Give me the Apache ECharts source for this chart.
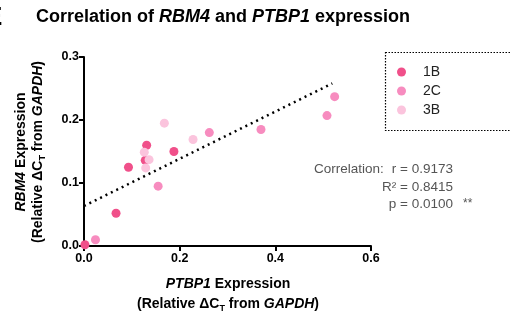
<!DOCTYPE html>
<html>
<head>
<meta charset="utf-8">
<script src="https://cdn.jsdelivr.net/npm/echarts@6/dist/echarts.min.js"></script>
<style>
  html, body { margin: 0; padding: 0; background: #fff; }
  #chart { width: 510px; height: 320px; }
</style>
</head>
<body>
<div id="chart"></div>
<script>
// 数据 (PTBP1, RBM4)
var data1B = [[0.002, 0.002], [0.067, 0.052], [0.093, 0.125], [0.131, 0.160], [0.128, 0.136], [0.188, 0.150]];
var data2C = [[0.024, 0.010], [0.155, 0.095], [0.262, 0.180], [0.370, 0.185], [0.508, 0.207], [0.524, 0.237]];
var data3B = [[0.126, 0.149], [0.136, 0.137], [0.129, 0.124], [0.168, 0.195], [0.228, 0.169]];
// 回归线
var fitX = [0, 0.519];
var fitY = [0.0635, 0.258];
var xTicks = [0, 0.2, 0.4, 0.6];
var yTicks = [0, 0.1, 0.2, 0.3];
var statLines = ['r = 0.9173', 'R\u00b2 = 0.8415', 'p = 0.0100'];

var colors = { '1B': '#f0508a', '2C': '#f78cbf', '3B': '#fbc4dd' };
var font = '"Liberation Sans", Arial, sans-serif';

var myChart = echarts.init(document.getElementById('chart'));

function scatter(name, d) {
    return {
        name: name,
        type: 'scatter',
        symbol: 'circle',
        symbolSize: 9,
        itemStyle: { color: colors[name], opacity: 1 },
        data: d,
        z: 3
    };
}

// 轴标题的富文本样式
var richLabel = {
    b: { fontSize: 14, fontWeight: 'bold', fontFamily: font, fill: '#000', height: 16 },
    bi: { fontSize: 14, fontWeight: 'bold', fontStyle: 'italic', fontFamily: font, fill: '#000', height: 16 },
    s: { fontSize: 9, fontWeight: 'bold', fontFamily: font, fill: '#000', padding: [8, 0, 0, 0] }
};
var statStyle = { fontSize: 13.5, fontFamily: font, fill: '#555' };

var option = {
    animation: false,
    grid: { left: 84, right: 139, top: 57, bottom: 74 },
    xAxis: {
        type: 'value',
        min: 0, max: 0.6, interval: 0.2,
        splitLine: { show: false },
        axisLine: { show: true, lineStyle: { color: '#000', width: 2 } },
        axisTick: { show: true, length: 5, lineStyle: { color: '#000', width: 2 } },
        axisLabel: {
            color: '#000', fontWeight: 'bold', fontSize: 12.5, fontFamily: font, margin: 6,
            formatter: function (v) { return v.toFixed(1); }
        }
    },
    yAxis: {
        type: 'value',
        min: 0, max: 0.3, interval: 0.1,
        splitLine: { show: false },
        axisLine: { show: true, lineStyle: { color: '#000', width: 2 } },
        axisTick: { show: true, length: 5, lineStyle: { color: '#000', width: 2 } },
        axisLabel: {
            color: '#000', fontWeight: 'bold', fontSize: 12.5, fontFamily: font, margin: 5,
            formatter: function (v) { return v.toFixed(1); }
        }
    },
    legend: {
        orient: 'vertical',
        left: 392, top: 60,
        itemWidth: 9, itemHeight: 9, itemGap: 5,
        icon: 'circle',
        textStyle: { fontSize: 14, fontFamily: font, color: '#222', padding: [0, 0, 0, 12] },
        data: ['1B', '2C', '3B']
    },
    series: [
        {
            name: 'fit',
            type: 'line',
            data: [[fitX[0], fitY[0]], [fitX[1], fitY[1]]],
            symbol: 'none',
            lineStyle: { color: '#000', width: 2.5, type: [2, 4] },
            z: 2
        },
        scatter('1B', data1B),
        scatter('2C', data2C),
        scatter('3B', data3B)
    ],
    graphic: [
        {
            type: 'text', x: -15, y: 5,
            style: { text: 'E', fontSize: 26, fontWeight: 'bold', fontFamily: font, fill: '#000' }
        },
        {
            type: 'text', left: 36, top: 8,
            style: {
                text: '{b|Correlation of }{bi|RBM4}{b| and }{bi|PTBP1}{b| expression}',
                rich: {
                    b: { fontSize: 18, fontWeight: 'bold', fontFamily: font, fill: '#000' },
                    bi: { fontSize: 18, fontWeight: 'bold', fontStyle: 'italic', fontFamily: font, fill: '#000' }
                }
            }
        },
        {
            type: 'rect',
            shape: { x: 385.5, y: 52.5, width: 140, height: 78 },
            style: { fill: 'none', stroke: '#000', lineWidth: 1.2, lineDash: [1.5, 1.5] }
        },
        {
            type: 'text', x: 314, y: 162,
            style: Object.assign({ text: 'Correlation:' }, statStyle)
        },
        {
            type: 'text', x: 453, y: 162,
            style: Object.assign({ text: statLines[0], align: 'right' }, statStyle)
        },
        {
            type: 'text', x: 453, y: 180,
            style: Object.assign({ text: statLines[1], align: 'right' }, statStyle)
        },
        {
            type: 'text', x: 453, y: 197,
            style: Object.assign({ text: statLines[2], align: 'right' }, statStyle)
        },
        {
            type: 'text', x: 463, y: 198,
            style: { text: '**', fontSize: 12, fontFamily: font, fill: '#555' }
        },
        {
            type: 'text', x: 228, y: 276,
            style: { text: '{bi|PTBP1}{b| Expression}', align: 'center', rich: richLabel }
        },
        {
            type: 'text', x: 228, y: 296,
            style: { text: '{b|(Relative \u0394C}{s|T}{b| from }{bi|GAPDH}{b|)}', align: 'center', rich: richLabel }
        },
        {
            type: 'text', x: 13, y: 152, rotation: Math.PI / 2,
            style: { text: '{bi|RBM4}{b| Expression}', align: 'center', rich: richLabel }
        },
        {
            type: 'text', x: 30, y: 152, rotation: Math.PI / 2,
            style: { text: '{b|(Relative \u0394C}{s|T}{b| from }{bi|GAPDH}{b|)}', align: 'center', rich: richLabel }
        }
    ]
};
myChart.setOption(option);
</script>
</body>
</html>
